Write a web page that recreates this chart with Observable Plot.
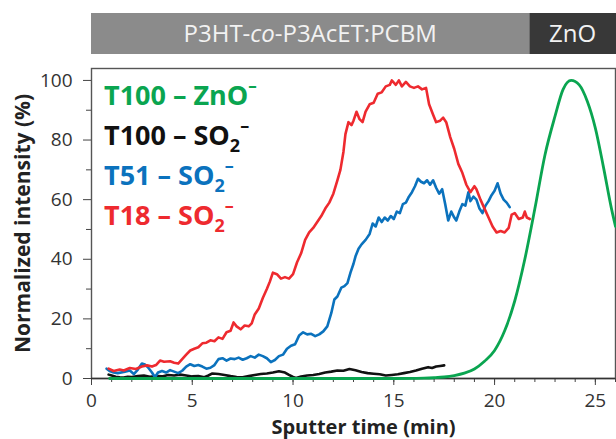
<!DOCTYPE html>
<html><head><meta charset="utf-8">
<script src="https://cdn.jsdelivr.net/npm/d3@7"></script>
<script src="https://cdn.jsdelivr.net/npm/@observablehq/plot@0.6"></script>
<style>body{margin:0;background:#fff}#chart svg{display:block}</style>
</head><body><div id="chart"></div>
<script>
// ---- data ----
const t18Time = [0.85,1.1,1.4,1.6,1.9,2.2,2.5,2.75,3.0,3.2,3.4,3.6,3.9,4.1,4.3,4.5,4.7,4.9,5.1,5.3,5.5,5.7,5.9,6.1,6.3,6.5,6.7,6.9,7.05,7.2,7.4,7.6,7.8,7.95,8.1,8.3,8.5,8.7,8.85,9.0,9.2,9.4,9.6,9.8,10.0,10.2,10.4,10.6,10.8,11.0,11.2,11.4,11.6,11.8,12.0,12.2,12.35,12.5,12.6,12.75,12.9,13.0,13.15,13.3,13.45,13.6,13.8,14.0,14.2,14.4,14.6,14.8,14.9,15.1,15.25,15.4,15.6,15.8,16.0,16.2,16.4,16.6,16.75,16.95,17.1,17.3,17.45,17.6,17.8,18.0,18.2,18.4,18.6,18.8,19.0,19.1,19.3,19.5,19.7,19.9,20.1,20.3,20.5,20.7,20.85,21.0,21.2,21.4,21.5,21.6,21.75];
const t18Value = [3.3,2.5,3.0,2.7,3.5,3.2,4.0,4.4,4.0,4.5,6.0,5.6,5.8,5.3,5.0,6.5,8.0,9.4,10.0,10.5,11.8,12.0,12.8,12.5,13.8,13.3,15.5,16.0,18.8,17.5,16.5,17.8,17.5,18.5,21.5,23.5,27.0,30.0,32.5,35.5,35.0,33.5,34.0,33.5,35.0,39.0,42.0,46.5,49.0,50.5,52.5,54.5,57.0,59.0,62.0,66.5,70.0,76.0,82.0,86.0,85.0,86.5,89.5,87.0,86.0,89.5,92.0,92.5,95.5,96.0,98.0,98.5,100.0,98.5,100.0,98.0,99.5,98.0,97.5,98.0,97.0,97.5,92.0,88.5,86.0,86.5,87.5,86.0,81.0,77.0,72.0,69.0,65.0,62.5,64.5,63.5,60.0,57.0,54.0,51.0,49.0,49.5,49.0,50.5,55.0,55.5,53.5,54.0,56.0,54.0,53.5];

const t51Time = [0.75,0.9,1.1,1.3,1.6,1.9,2.1,2.3,2.5,2.65,2.8,3.0,3.15,3.3,3.5,3.7,3.9,4.1,4.3,4.5,4.7,4.9,5.1,5.3,5.5,5.7,5.9,6.1,6.3,6.5,6.7,6.9,7.1,7.3,7.5,7.7,7.9,8.1,8.3,8.5,8.7,8.9,9.1,9.3,9.5,9.7,9.9,10.1,10.3,10.5,10.7,10.9,11.1,11.3,11.5,11.7,11.9,12.05,12.2,12.4,12.55,12.7,12.85,13.0,13.1,13.25,13.4,13.6,13.8,13.95,14.1,14.25,14.4,14.55,14.7,14.85,15.0,15.15,15.3,15.45,15.6,15.75,15.9,16.05,16.2,16.35,16.5,16.65,16.8,16.95,17.1,17.25,17.4,17.55,17.7,17.85,18.0,18.1,18.25,18.4,18.55,18.7,18.8,18.95,19.1,19.25,19.4,19.55,19.7,19.85,20.0,20.15,20.3,20.45,20.6,20.75];
const t51Value = [3.3,2.5,2.0,1.8,2.2,2.7,1.5,3.0,5.0,4.7,3.8,2.0,0.4,2.0,2.5,2.0,2.8,2.3,1.8,2.6,4.0,4.8,4.2,4.5,4.0,3.3,3.6,4.5,6.5,6.8,6.0,6.7,6.5,7.0,6.3,6.8,7.5,7.0,8.0,7.5,6.8,5.5,6.2,7.5,8.0,10.0,11.0,11.5,14.4,15.5,14.8,15.0,14.2,14.8,15.8,17.5,22.0,26.5,27.5,30.5,31.0,32.0,35.5,38.5,41.0,43.5,45.0,46.5,48.5,52.0,51.0,54.0,52.5,54.0,53.0,54.5,53.5,56.0,55.5,58.5,59.0,61.0,62.5,64.5,67.0,66.0,65.5,66.5,65.0,66.5,64.0,62.0,63.5,58.5,53.0,56.0,54.0,53.0,56.0,58.5,58.0,62.5,59.5,61.0,60.0,57.0,55.5,58.0,59.5,61.5,63.0,65.5,62.0,60.0,59.0,57.5];

const t100STime = [0.85,1.0,1.2,1.4,1.6,1.8,2.0,2.3,2.6,2.9,3.2,3.5,3.8,4.1,4.4,4.7,5.0,5.3,5.6,5.8,6.0,6.3,6.6,6.9,7.2,7.5,7.8,8.1,8.4,8.7,9.0,9.3,9.6,9.8,10.0,10.15,10.4,10.7,11.0,11.3,11.6,11.9,12.2,12.5,12.8,13.1,13.4,13.7,14.0,14.3,14.6,14.9,15.2,15.5,15.8,16.1,16.4,16.7,16.9,17.1,17.3,17.5];
const t100SValue = [1.3,1.0,0.6,0.4,0.3,0.6,0.5,0.8,1.0,0.6,0.8,0.7,1.2,1.0,1.3,1.0,0.7,0.8,0.4,1.0,1.7,1.5,1.2,0.8,0.5,0.4,0.8,1.2,1.5,1.7,2.0,2.4,2.0,1.2,0.5,0.2,0.7,1.0,1.2,1.5,2.0,2.3,2.7,2.6,3.2,2.8,2.2,1.8,1.6,1.4,1.0,1.2,1.4,1.8,2.2,2.7,3.3,3.8,3.5,4.0,4.2,4.4];

const t100ZTime = [0.9,4,8,12,15,16,16.5,17,17.5,18,18.5,19,19.5,20,20.5,21,21.5,22,22.5,23,23.4,23.8,24.2,24.6,25,25.4,25.8,26];
const t100ZValue = [0,0,0,0,0,0.05,0.1,0.25,0.5,1.0,1.8,3.2,5.8,9.4,16,26,40,57,75,88,97,100,98.5,93,84,71,57,51];

const seriesNames = ["T100 – ZnO", "T100 – SO", "T51 – SO", "T18 – SO"];
const seriesColors = ["#0aa550", "#111111", "#0b72bd", "#ee2a2f"];
const layerNames = ["P3HT-", "co", "-P3AcET:PCBM", "ZnO"];
const layerStart = [0, 21.75];
const layerEnd = [21.75, 26.1];
const layerFill = ["#8b8b8b", "#383838"];
const xMajor = [0,5,10,15,20,25];
const xMinor = d3.range(0,27,1);
const yMajor = [0,20,40,60,80,100];
const yMinor = [10,30,50,70,90];

const rows = (ts, vs, s) => ts.map((t,i) => ({t, v: vs[i], s}));
const black = rows(t100STime, t100SValue, "T100 SO2");
const blue = rows(t51Time, t51Value, "T51 SO2");
const red = rows(t18Time, t18Value, "T18 SO2");
const green = rows(t100ZTime, t100ZValue, "T100 ZnO");

const FONT = "'Open Sans', sans-serif";
const plot = Plot.plot({
  width: 616, height: 439,
  marginTop: 68, marginRight: 1, marginBottom: 61, marginLeft: 91,
  style: {fontFamily: FONT, fontSize: "19px", background: "#fff", overflow: "visible"},
  x: {domain: [0, 26]},
  y: {domain: [0, 104]},
  marks: [
    Plot.frame({stroke: "#555", strokeWidth: 1.4}),
    Plot.axisX({ticks: xMinor, tickSize: 4, text: null, stroke: "#444", label: null}),
    Plot.axisX({ticks: xMajor, tickSize: 7, tickPadding: 8, fontSize: 19, fill: "#333", stroke: "#444", label: null}),
    Plot.axisY({ticks: yMinor, tickSize: 5, text: null, stroke: "#444", label: null}),
    Plot.axisY({ticks: yMajor, tickSize: 8, tickPadding: 11, fontSize: 19, fill: "#333", stroke: "#444", label: null}),
    Plot.ruleY([0], {stroke: "#333", strokeWidth: 1.6}),
    Plot.text(["Sputter time (min)"], {frameAnchor: "bottom", dx: 10, dy: 55, fontSize: 20, fontWeight: "bold", fill: "#222"}),
    Plot.text(["Normalized intensity (%)"], {frameAnchor: "left", dx: -68, rotate: -90, textAnchor: "middle", fontSize: 21, fontWeight: "bold", fill: "#222"}),
    Plot.line(black, {x: "t", y: "v", stroke: seriesColors[1], strokeWidth: 2.6}),
    Plot.line(blue, {x: "t", y: "v", stroke: seriesColors[2], strokeWidth: 2.6}),
    Plot.line(red, {x: "t", y: "v", stroke: seriesColors[3], strokeWidth: 2.6}),
    Plot.line(green, {x: "t", y: "v", stroke: seriesColors[0], strokeWidth: 2.8, curve: "monotone-x"})
  ]
});
document.getElementById("chart").append(plot);

// ---- header layer bar (positioned with the plot's x scale) ----
const xs = plot.scale("x");
const svg = d3.select(plot);
const header = svg.append("g");
[0,1].forEach(i => {
  const x0 = xs.apply(layerStart[i]), x1 = Math.min(616, xs.apply(layerEnd[i]));
  header.append("rect").attr("x", x0).attr("y", 13).attr("width", x1 - x0).attr("height", 41).attr("fill", layerFill[i]);
});
const ht = header.append("text").attr("x", (xs.apply(0) + xs.apply(21.75)) / 2).attr("y", 42)
  .attr("text-anchor", "middle").attr("fill", "#f2f2f2").style("font-family", FONT).style("font-size", "24px");
ht.append("tspan").text(layerNames[0]);
ht.append("tspan").text(layerNames[1]).style("font-style", "italic");
ht.append("tspan").text(layerNames[2]);
header.append("text").attr("x", (xs.apply(21.75) + 616) / 2).attr("y", 42)
  .attr("text-anchor", "middle").attr("fill", "#f2f2f2").style("font-family", FONT).style("font-size", "24px").text(layerNames[3]);

// ---- legend ----
const leg = svg.append("g").style("font-family", FONT).style("font-weight", "bold").style("font-size", "27px");
seriesNames.forEach((name, i) => {
  const tx = leg.append("text").attr("x", 104).attr("y", 105 + i * 40).attr("text-anchor", "start").attr("fill", seriesColors[i]);
  tx.append("tspan").text(name);
  if (i === 0) {
    tx.append("tspan").attr("dy", -13).style("font-size", "17px").text("–");
  } else {
    tx.append("tspan").attr("dy", 7).style("font-size", "18px").text("2");
    tx.append("tspan").attr("dy", -20).style("font-size", "18px").text("–");
  }
});
</script>
</body></html>
